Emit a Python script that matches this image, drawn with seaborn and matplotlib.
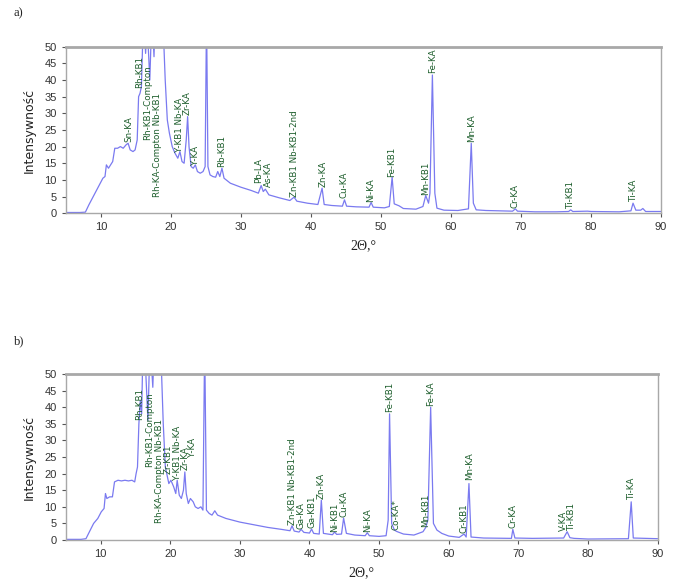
import numpy as np
import pandas as pd
import matplotlib
matplotlib.use("Agg")
import matplotlib.pyplot as plt
import seaborn as sns

# ---------------- data: spectrum a) ----------------
a_theta = [5.0, 7.0, 7.8, 8.3, 8.8, 9.3, 9.8, 10.3, 10.6, 10.8, 11.1, 11.4, 11.7, 12.0, 12.4,
           12.8, 13.2, 13.6, 13.9, 14.2, 14.6, 14.9, 15.2, 15.4, 15.6, 15.8, 15.9, 16.1, 16.4,
           16.6, 17.0, 17.3, 17.6, 17.8, 18.0, 18.4, 18.8, 19.2, 19.5, 19.8, 20.2, 20.6, 21.0,
           21.3, 21.6, 21.9, 22.2, 22.4, 22.6, 22.9, 23.2, 23.5, 23.8, 24.2, 24.6, 24.9, 25.1,
           25.3, 25.6, 26.0, 26.4, 26.7, 27.0, 27.3, 27.6, 28.5, 30.0, 31.5, 32.5, 32.9, 33.2,
           33.5, 34.0, 35.5, 37.0, 37.6, 38.0, 39.5, 41.0, 41.6, 41.9, 43.0, 44.5, 44.8, 45.1,
           46.5, 48.3, 48.6, 48.9, 50.5, 51.2, 51.6, 51.9, 52.6, 53.2, 55.0, 56.0, 56.4, 56.8,
           57.0, 57.35, 57.7, 58.0, 59.0, 61.0, 62.5, 62.9, 63.2, 63.6, 65.0, 67.0, 68.8, 69.2,
           69.5, 72.0, 75.0, 76.8, 77.1, 77.4, 79.5, 80.0, 84.0, 85.7, 86.0, 86.4, 87.1, 87.4,
           87.8, 90.0]
a_int = [0.2, 0.2, 0.3, 2.5, 4.5, 6.5, 8.5, 10.5, 11.0, 14.5, 13.5, 14.5, 15.5, 19.5, 19.5,
         20.0, 19.5, 20.5, 21.0, 19.0, 18.5, 19.0, 22.0, 35.0, 36.0, 38.0, 45.0, 60.0, 48.0,
         58.0, 40.0, 60.0, 47.0, 62.0, 70.0, 55.0, 62.0, 40.0, 28.0, 24.0, 20.0, 18.0, 16.5,
         18.5, 15.5, 15.0, 22.0, 29.0, 20.0, 14.0, 13.5, 14.5, 12.5, 12.0, 12.5, 14.0, 60.0,
         14.0, 11.5, 11.0, 10.8, 12.5, 11.0, 13.5, 10.5, 9.0, 7.8, 6.8, 6.0, 8.3, 6.5,
         7.2, 5.5, 4.6, 3.8, 4.8, 3.6, 3.0, 2.6, 7.5, 2.6, 2.3, 2.1, 4.0, 2.1,
         1.9, 1.8, 3.2, 1.8, 1.6, 2.0, 10.8, 2.8, 2.2, 1.4, 1.2, 2.0, 5.3, 3.0,
         6.0, 41.5, 6.0, 1.5, 0.9, 0.8, 1.3, 21.0, 3.0, 1.0, 0.8, 0.7, 0.6, 1.3,
         0.6, 0.4, 0.4, 0.5, 1.0, 0.5, 0.6, 0.5, 0.4, 0.7, 3.0, 0.9, 0.9, 1.4,
         0.5, 0.5]

# ---------------- data: spectrum b) ----------------
b_theta = [5.0, 7.2, 7.9, 8.4, 9.0, 9.6, 10.1, 10.5, 10.7, 10.9, 11.3, 11.7, 12.0, 12.5, 13.0,
           13.5, 14.0, 14.5, 14.9, 15.1, 15.3, 15.5, 15.7, 15.9, 16.1, 16.5, 16.8, 17.1, 17.5,
           17.8, 18.2, 18.6, 19.0, 19.3, 19.5, 19.8, 20.1, 20.5, 20.8, 21.0, 21.3, 21.6, 21.9,
           22.1, 22.3, 22.6, 22.9, 23.3, 23.6, 24.0, 24.4, 24.7, 24.95, 25.2, 25.6, 26.0, 26.4,
           26.8, 28.0, 30.0, 32.0, 34.0, 36.0, 37.2, 37.5, 37.8, 38.5, 38.8, 39.2, 40.0, 40.3,
           40.6, 41.4, 41.7, 42.0, 43.3, 43.6, 43.9, 44.6, 44.9, 45.3, 46.5, 48.0, 48.3, 48.6,
           50.0, 51.0, 51.3, 51.5, 51.8, 52.2, 52.5, 53.5, 55.0, 56.3, 56.7, 57.0, 57.4, 57.8,
           58.3, 59.0, 60.0, 61.5, 62.2, 62.5, 62.9, 63.2, 65.0, 69.0, 69.2, 69.5, 72.0, 76.5,
           77.0, 77.4, 78.0, 80.0, 85.8, 86.2, 86.5, 90.0]
b_int = [0.2, 0.2, 0.4, 2.5, 5.0, 6.5, 8.5, 9.5, 14.0, 12.5, 13.0, 13.0, 17.5, 18.0, 17.8,
         18.0, 17.8, 18.0, 17.5, 20.0, 22.0, 35.0, 42.0, 38.0, 60.0, 50.0, 36.0, 60.0, 46.0,
         65.0, 52.0, 60.0, 35.0, 22.0, 20.0, 17.0, 18.0, 16.0, 14.0, 18.0, 13.5, 12.5, 15.0,
         20.5, 14.0, 11.0, 12.5, 11.5, 10.0, 9.5, 10.0, 9.0, 60.0, 9.0, 8.0, 7.5, 8.8,
         7.5, 6.5, 5.4, 4.6, 3.8, 3.2, 2.8, 4.3, 2.7, 2.4, 3.2, 2.3, 2.1, 3.3,
         2.0, 1.8, 12.0, 2.0, 1.6, 2.4, 1.7, 1.8, 6.6, 2.0, 1.5, 1.3, 2.2, 1.3,
         1.1, 1.3, 6.0, 38.0, 5.0, 3.0, 2.6, 1.8, 1.5, 2.5, 3.8, 6.0, 40.0, 5.0,
         3.0, 2.0, 1.2, 0.8, 1.8, 0.9, 17.0, 0.9, 0.6, 0.5, 3.2, 0.6, 0.5, 0.6,
         2.5, 0.7, 0.5, 0.3, 0.4, 11.5, 0.6, 0.4]

# ---------------- peak labels ----------------
a_lab_text = ["Sn-KA", "Rh-KB1", "Rh-KB1-Compton", "Rh-KA-Compton Nb-KB1", "Y-KB1 Nb-KA",
              "Zr-KA", "Y-KA", "Rb-KB1", "Pb-LA", "As-KA", "Zn-KB1 Nb-KB1-2nd", "Zn-KA",
              "Cu-KA", "Ni-KA", "Fe-KB1", "Mn-KB1", "Fe-KA", "Mn-KA", "Cr-KA", "Ti-KB1", "Ti-KA"]
a_lab_x = [14.0, 15.6, 16.7, 18.1, 21.3, 22.4, 23.5, 27.3, 32.6, 33.9, 37.6, 41.7,
           44.8, 48.6, 51.6, 56.4, 57.4, 62.9, 69.2, 77.1, 86.0]
a_lab_y = [21.5, 37.5, 22.0, 5.0, 18.5, 29.5, 14.5, 14.0, 9.0, 8.0, 5.0, 8.0,
           4.5, 3.5, 11.0, 5.5, 42.0, 21.5, 1.5, 1.2, 3.3]

b_lab_text = ["Rh-KB1", "Rh-KB1-Compton", "Rh-KA-Compton Nb-KB1", "Zr-KB1", "Y-KB1 Nb-KA",
              "Zr-KA", "Y-KA", "Zn-KB1 Nb-KB1-2nd", "Ga-KA", "Ga-KB1", "Zn-KA", "Ni-KB1",
              "Cu-KA", "Ni-KA", "Fe-KB1", "Co-KA*", "Mn-KB1", "Fe-KA", "Cr-KB1", "Mn-KA",
              "Cr-KA", "V-KA", "Ti-KB1", "Ti-KA"]
b_lab_x = [15.6, 17.0, 18.4, 19.7, 21.0, 22.1, 23.2, 37.5, 38.8, 40.3, 41.7, 43.6,
           44.9, 48.3, 51.5, 52.4, 56.7, 57.4, 62.2, 63.0, 69.2, 76.4, 77.7, 86.2]
b_lab_y = [36.0, 22.0, 5.0, 20.0, 18.0, 21.0, 25.0, 4.5, 3.3, 3.5, 12.5, 2.5,
           7.0, 2.5, 38.5, 3.0, 4.0, 40.5, 2.0, 18.0, 3.5, 2.6, 2.6, 12.0]

y_ticks = [0, 5, 10, 15, 20, 25, 30, 35, 40, 45, 50]
x_ticks = [10, 20, 30, 40, 50, 60, 70, 80, 90]

# ---------------- drawing ----------------
sns.set_theme(style="ticks")
plt.rcParams['font.family'] = ['DejaVu Sans']

line_color = '#7a7af0'
lab_color = '#1d5e2c'
frame_color = '#a8a8a8'

fig = plt.figure(figsize=(6.78, 5.84), dpi=100)
ax_a = fig.add_axes([0.097, 0.635, 0.878, 0.285])
ax_b = fig.add_axes([0.097, 0.0753, 0.873, 0.2843])

panels = [
    (ax_a, a_theta, a_int, a_lab_text, a_lab_x, a_lab_y, "a)"),
    (ax_b, b_theta, b_int, b_lab_text, b_lab_x, b_lab_y, "b)"),
]

for ax, xs, ys, lt, lx, ly, tag in panels:
    df = pd.DataFrame({"theta": xs, "intensity": ys})
    sns.lineplot(data=df, x="theta", y="intensity", ax=ax, color=line_color,
                 linewidth=0.9, estimator=None, sort=False)
    ax.set_xlim(5, 90)
    ax.set_ylim(0, 50)
    ax.set_xticks(x_ticks)
    ax.set_yticks(y_ticks)
    ax.tick_params(axis='both', labelsize=8, colors='#555555', length=3, width=0.8,
                   labelcolor='#333333')
    for lab in ax.get_xticklabels() + ax.get_yticklabels():
        lab.set_family('Liberation Sans')
    for s in ax.spines.values():
        s.set_visible(True)
        s.set_color(frame_color)
        s.set_linewidth(1.0)
    ax.spines['top'].set_linewidth(2.0)
    ax.set_xlabel("2Θ,°", fontsize=10, family='Liberation Serif', color='#222222', labelpad=5)
    ax.set_ylabel("Intensywność", fontsize=9, color='#222222', labelpad=6)
    for t, x, y in zip(lt, lx, ly):
        ax.text(x, y, t, rotation=90, ha='center', va='bottom', fontsize=6.3,
                color=lab_color, clip_on=True)
    ax.text(-0.087, 1.2, tag, transform=ax.transAxes, fontsize=9,
            family='Liberation Serif', color='#222222', ha='left', va='center')

fig.savefig("out.png", dpi=100, facecolor='white')
